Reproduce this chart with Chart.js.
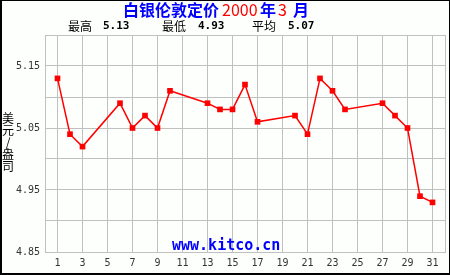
<!DOCTYPE html>
<html>
<head>
<meta charset="utf-8">
<script src="https://cdn.jsdelivr.net/npm/chart.js@4/dist/chart.umd.min.js"></script>
<style>
  html, body { margin: 0; padding: 0; background: #fdfffd; }
  #wrap { width: 450px; height: 275px; position: relative; }
</style>
</head>
<body>
<div id="wrap"><canvas id="chart" width="450" height="275"></canvas></div>
<script>
// trading days in March 2000 and London silver fix (USD/oz)
const days = [1, 2, 3, 6, 7, 8, 9, 10, 13, 14, 15, 16, 17, 20, 21, 22, 23, 24, 27, 28, 29, 30, 31];
const prices = [5.13, 5.04, 5.02, 5.09, 5.05, 5.07, 5.05, 5.11, 5.09, 5.08, 5.08, 5.12, 5.06,
                5.07, 5.04, 5.13, 5.11, 5.08, 5.09, 5.07, 5.05, 4.94, 4.93];

const xTickDays = [0, 1, 3, 5, 7, 9, 11, 13, 15, 17, 19, 21, 23, 25, 27, 29, 31, 32];
const yGridValues = [4.85, 4.90, 4.95, 5.00, 5.05, 5.10, 5.15, 5.20];
const yLabelValues = [4.85, 4.95, 5.05, 5.15];

const titleParts = [
  { text: '白银伦敦定价', color: '#0000ff', x: 123 },
  { text: '2000', color: '#ff0000', x: 222 },
  { text: '年', color: '#0000ff', x: 260 },
  { text: '3', color: '#ff0000', x: 278 },
  { text: '月', color: '#0000ff', x: 293 },
];
const statLabels = ['最高', '最低', '平均'];
const statValues = ['5.13', '4.93', '5.07'];
const yTitle = ['美', '元', '/', '盎', '司'];
const siteText = 'www.kitco.cn';

const CJK = '"Noto Sans CJK SC", "Noto Sans", sans-serif';
const MONO = '"DejaVu Sans Mono", monospace';

const decorations = {
  id: 'decorations',
  beforeDraw(chart) {
    const ctx = chart.ctx;
    ctx.save();
    ctx.fillStyle = '#fdfffd';
    ctx.fillRect(0, 0, chart.width, chart.height);
    ctx.restore();
  },
  afterDatasetsDraw(chart) {
    const ctx = chart.ctx;
    ctx.save();
    ctx.font = 'bold 15px ' + MONO;
    ctx.fillStyle = '#0000ff';
    ctx.textBaseline = 'alphabetic';
    ctx.textAlign = 'left';
    ctx.fillText(siteText, 172, 250);
    ctx.restore();
  },
  afterDraw(chart) {
    const ctx = chart.ctx;
    ctx.save();
    ctx.textBaseline = 'middle';
    ctx.textAlign = 'left';

    // title
    titleParts.forEach(p => {
      const isCjk = /[^\x00-\x7f]/.test(p.text);
      ctx.font = (isCjk ? 'bold 16px ' : '16px ') + CJK;
      ctx.fillStyle = p.color;
      ctx.fillText(p.text, p.x, 10);
    });

    // high / low / average
    const labelX = [68, 162, 252];
    const valueX = [103, 198, 288];
    ctx.fillStyle = '#000';
    statLabels.forEach((s, i) => {
      ctx.font = '12px ' + CJK;
      ctx.fillText(s, labelX[i], 26);
      ctx.font = 'bold 11px ' + MONO;
      ctx.fillText(statValues[i], valueX[i], 26);
    });

    // vertical y-axis title
    ctx.font = '12px ' + CJK;
    ctx.textAlign = 'center';
    yTitle.forEach((c, i) => {
      ctx.fillText(c, 8, 118 + i * 12);
    });

    // outer frame
    ctx.fillStyle = '#000';
    ctx.fillRect(0, 0, 450, 1);
    ctx.fillRect(0, 0, 2, 275);
    ctx.fillRect(0, 273, 450, 2);
    ctx.fillRect(449, 0, 1, 275);
    ctx.restore();
  }
};

new Chart(document.getElementById('chart'), {
  type: 'line',
  data: {
    datasets: [{
      data: days.map((d, i) => ({ x: d, y: prices[i] })),
      borderColor: '#ff0000',
      backgroundColor: '#ff0000',
      borderWidth: 1.5,
      tension: 0,
      pointStyle: 'rect',
      pointRadius: 4,
      pointBorderWidth: 0,
    }]
  },
  options: {
    responsive: false,
    animation: false,
    events: [],
    layout: { padding: { top: 35, right: 5, left: 0, bottom: 0 } },
    plugins: { legend: { display: false }, tooltip: { enabled: false } },
    scales: {
      x: {
        type: 'linear',
        min: 0,
        max: 32,
        afterBuildTicks: scale => { scale.ticks = xTickDays.map(v => ({ value: v })); },
        afterFit: scale => { scale.height = 23; },
        grid: { color: '#c0c0c0', drawTicks: false, lineWidth: 1 },
        border: { color: '#c0c0c0' },
        ticks: {
          autoSkip: false,
          maxRotation: 0,
          padding: 5,
          color: '#333',
          font: { family: MONO, size: 10 },
          callback: v => (v >= 1 && v <= 31 ? String(v) : ''),
        },
      },
      y: {
        min: 4.85,
        max: 5.20,
        afterBuildTicks: scale => { scale.ticks = yGridValues.map(v => ({ value: v })); },
        afterFit: scale => { scale.width = 45; },
        grid: { color: '#c0c0c0', drawTicks: false, lineWidth: 1 },
        border: { color: '#c0c0c0' },
        ticks: {
          padding: 5,
          color: '#333',
          font: { family: MONO, size: 10 },
          callback: v => (yLabelValues.some(l => Math.abs(l - v) < 1e-6) ? v.toFixed(2) : ''),
        },
      }
    }
  },
  plugins: [decorations]
});
</script>
</body>
</html>
